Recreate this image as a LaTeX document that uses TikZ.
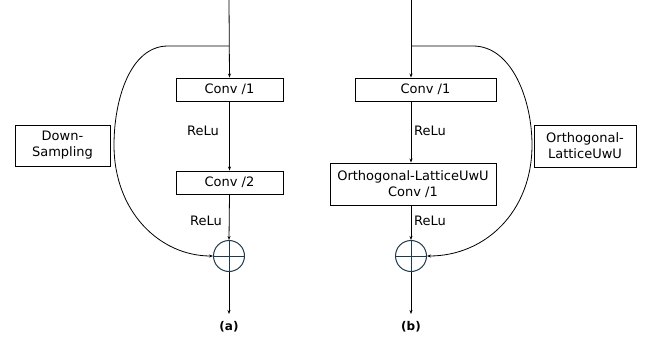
\documentclass[tikz,border=0pt]{standalone}
\usepackage{fontspec}
\setmainfont{DejaVu Sans}
\usetikzlibrary{arrows.meta}
\definecolor{circ}{HTML}{1F3A4D}
\begin{document}
\begin{tikzpicture}[x=1pt,y=-1pt,
  box/.style={draw,line width=0.9pt,minimum height=23pt,inner sep=0pt,font=\fontsize{13}{16}\selectfont,align=center},
  lbl/.style={font=\fontsize{13}{16}\selectfont,inner sep=0pt},
  sumnode/.style={circle,draw=circ,line width=1pt,minimum size=31pt,inner sep=0pt},
  arr/.style={-{Stealth[length=4pt,width=3pt]},line width=0.8pt},
  ln/.style={line width=0.8pt}]
\useasboundingbox (0,0) rectangle (665,337);
% ---------- (a) ----------
\coordinate (atop) at (229,0);
\coordinate (abr) at (229,46);
\node[box,minimum width=107pt] (aconv1) at (229.5,89.5) {Conv /1};
\node[box,minimum width=107pt] (aconv2) at (229.5,182.5) {Conv /2};
\node[sumnode] (asum) at (229,256) {};
\draw[circ,line width=1pt] (asum.north) -- (asum.south) (asum.west) -- (asum.east);
\coordinate (aout) at (229,314);
\node[lbl,font=\bfseries\fontsize{12}{14}\selectfont] (alab) at (229,327) {(a)};
\node[box,minimum width=95pt,minimum height=41pt] (down) at (62.5,145.5) {Down-\\Sampling};
\node[lbl] (arelu1) at (203,131) {ReLu};
\node[lbl] (arelu2) at (206,221) {ReLu};
\draw[arr] (atop) -- (aconv1.north);
\draw[arr] (aconv1.south) -- (aconv2.north);
\draw[arr] (aconv2.south) -- (asum.north);
\draw[arr] (asum.south) -- (aout);
\draw[arr] (abr) -- (168,46) .. controls (130,46) and (114,100) .. (114,145) .. controls (114,212) and (160,256) .. (asum.west);
% ---------- (b) ----------
\coordinate (btop) at (411,0);
\coordinate (bbr) at (411,46);
\node[box,minimum width=141pt] (bconv1) at (425.5,89.5) {Conv /1};
\node[box,minimum width=166pt,minimum height=42pt] (bconv2) at (413,184) {Orthogonal-LatticeUwU\\Conv /1};
\node[sumnode] (bsum) at (411,256) {};
\draw[circ,line width=1pt] (bsum.north) -- (bsum.south) (bsum.west) -- (bsum.east);
\coordinate (bout) at (411,314);
\node[lbl,font=\bfseries\fontsize{12}{14}\selectfont] (blab) at (411,327) {(b)};
\node[box,minimum width=102pt,minimum height=42pt] (orth) at (585,146) {Orthogonal-\\LatticeUwU};
\node[lbl] (brelu1) at (430,131) {ReLu};
\node[lbl] (brelu2) at (430,221) {ReLu};
\draw[arr] (btop) -- (bconv1.north -| btop);
\draw[arr] (bconv1.south -| btop) -- (bconv2.north -| btop);
\draw[arr] (bconv2.south -| btop) -- (bsum.north);
\draw[arr] (bsum.south) -- (bout);
\draw[arr] (bbr) -- (473,46) .. controls (512,46) and (532,100) .. (532,145) .. controls (532,212) and (485,256) .. (bsum.east);
\end{tikzpicture}
\end{document}
